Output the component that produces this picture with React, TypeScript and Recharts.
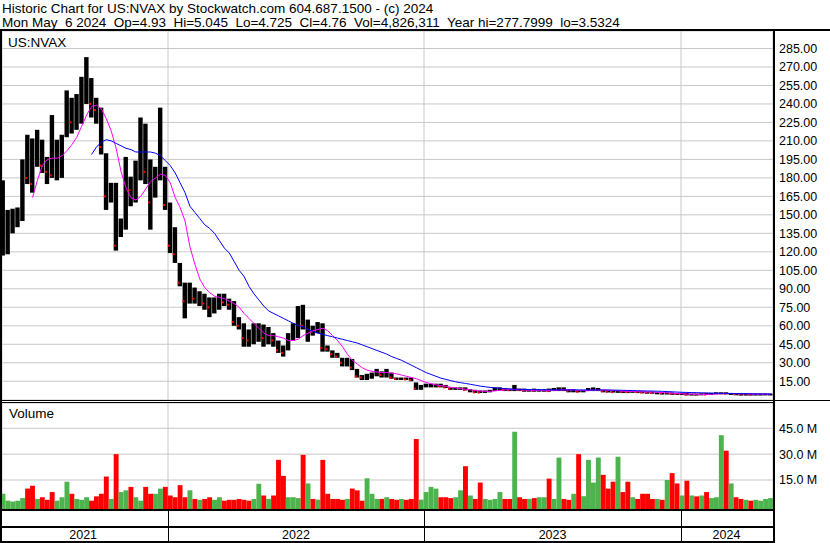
import React from 'react';
import { ComposedChart, Bar, Line, XAxis, YAxis, CartesianGrid, Cell } from 'recharts';

// Weekly data, week 0 = week of May 10 2021, week 156 = week of May 6 2024
const HI = [
  178, 154, 155, 156, 195, 215, 212, 219, 211, 197,
  231, 211, 215, 251, 245, 248, 262, 278, 261, 245,
  237, 200, 176, 176, 147, 197, 181, 194, 229, 224,
  195, 189, 237, 189, 160, 140, 111, 95, 95, 91,
  88, 86, 83, 83, 86, 86, 82, 80, 67, 62,
  57, 62, 62, 61, 59, 54, 48, 44, 54, 62,
  76, 77, 65, 60, 63, 62, 44, 40, 38, 34,
  34, 33, 25, 20, 21, 22, 25, 23, 25, 22,
  18, 18, 18, 18, 14, 12, 13, 13, 13, 13,
  12, 10, 10, 10, 10, 8.5, 8, 7.5, 7.5, 8,
  10, 10, 9.5, 9, 12, 9, 9, 8.5, 9, 8.5,
  8.5, 9, 9.5, 10, 10, 8.5, 8.5, 8, 8, 9.5,
  10, 9.5, 8, 7.5, 7.5, 7.2, 7, 7, 7.2, 7,
  6.8, 6.5, 6.5, 6, 6, 6, 5.8, 5.5, 5.5, 5.5,
  5, 5, 5.2, 5.5, 5.5, 6, 6, 6, 5.5, 5.2,
  5, 5, 5, 5, 5, 5.1, 5.05,
];
const LO = [
  117, 118, 135, 140, 145, 175, 168, 189, 184, 175,
  180, 178, 180, 213, 216, 219, 224, 240, 229, 224,
  199, 154, 160, 121, 132, 138, 157, 160, 178, 175,
  138, 164, 178, 154, 119, 111, 92, 66, 78, 78,
  76, 73, 67, 70, 73, 76, 73, 60, 57, 43,
  43, 45, 47, 43, 45, 43, 38, 35, 40, 48,
  50, 57, 47, 52, 54, 39, 39, 34, 34, 27,
  27, 24, 18, 16, 16, 17, 19, 18, 18, 17,
  16, 16, 16, 15, 8, 8, 10, 10, 10, 10,
  9.5, 8, 8, 8, 7.5, 6, 5.5, 5.5, 5.5, 6,
  7, 7.5, 7, 7, 7, 7, 6.5, 6.5, 6.5, 6.5,
  6.5, 6.5, 7, 7, 7, 6, 6, 6, 6, 7,
  7, 7, 6, 6, 5.8, 5.8, 5.5, 5.5, 5.8, 5.5,
  5.5, 5.2, 5, 4.5, 4.2, 4.2, 4, 4, 3.8, 3.5,
  3.5, 3.6, 3.8, 4, 4, 4.5, 4.5, 4.5, 4.5, 4,
  3.8, 3.8, 3.6, 3.8, 3.8, 4, 4.5,
];
const CL = [
  135, 145, 148, 150, 185, 180, 175, 205, 190, 185,
  182, 185, 205, 235, 225, 240, 250, 260, 240, 235,
  205, 165, 168, 125, 140, 185, 170, 185, 200, 185,
  160, 180, 185, 158, 125, 118, 95, 80, 88, 82,
  84, 78, 75, 78, 80, 79, 77, 63, 60, 50,
  48, 55, 56, 50, 52, 48, 40, 38, 50, 55,
  70, 60, 62, 55, 58, 42, 41, 37, 35, 30,
  32, 26, 19, 18, 19, 20, 21, 20, 22, 18,
  17, 17, 16.5, 16, 9, 10, 12, 12.5, 12.6, 11,
  10, 9, 9.2, 9.4, 8, 8.2, 6, 5.8, 6.5, 7.5,
  8.5, 9, 8, 7.8, 8.5, 8, 7.5, 7.6, 7.2, 7.4,
  7.8, 7, 8, 8.5, 8, 7, 7.2, 6.5, 6.8, 8.5,
  8.6, 8.8, 7, 6.5, 6.2, 6.8, 6.5, 6.2, 6.4, 6.3,
  6, 5.8, 5.6, 5.6, 5.4, 5.6, 5, 4.6, 4.7, 4.2,
  4.3, 4.1, 4.4, 4.2, 4.5, 4.8, 5.4, 4.9, 5, 4.6,
  4.4, 4.5, 4.2, 4.4, 4.6, 4.7, 4.76,
];
const MA_FAST = [
  null, null, null, null, null, null,
  164, 178, 190, 195, 196, 196, 198, 202, 207, 213,
  222, 231, 238, 239, 236, 228, 218, 204, 185, 172,
  164, 162, 165, 171, 177, 180, 183, 182, 176, 164,
  156, 145, 124, 110, 98, 91, 87, 84, 83, 82,
  80, 78, 75, 70, 66, 62, 58, 54, 52, 52,
  51, 50, 48, 48, 49, 52, 54, 56, 57, 58,
  56, 52, 48, 43, 37, 32, 29, 26, 24, 23,
  22.5, 22, 22, 21.5, 21, 20, 19, 18, 17, 15.5,
  14, 13, 12, 11.5, 11, 10, 9.5, 9, 8.5, 8,
  7.5, 7, 6.8, 6.8, 7.2, 7.6, 8, 8.2, 8.2,
  8, 7.8, 7.6, 7.5, 7.5, 7.4, 7.4, 7.6, 7.8, 8,
  8, 7.8, 7.5, 7.3, 7.4, 7.6, 7.8, 7.9, 7.8, 7.5,
  7.2, 7, 6.8, 6.6, 6.5, 6.4, 6.3, 6.2, 6, 5.8,
  5.5, 5.3, 5, 4.8, 4.6, 4.5, 4.4, 4.3, 4.3, 4.4,
  4.6, 4.8, 4.9, 5, 4.9, 4.8, 4.7, 4.6, 4.5, 4.5,
  4.5, 4.5,
];
const MA_SLOW = [
  null, null, null, null, null, null, null, null, null, null,
  null, null, null, null, null, null, null, null,
  199, 205, 209, 211, 210, 208, 206, 204, 203, 201,
  201, 201, 201, 200, 198, 194, 190, 184, 176, 168,
  157, 152, 147, 142, 139, 135, 129, 123, 119, 112,
  105, 100, 92, 86, 81, 76, 72, 70, 68, 66,
  64, 62, 60, 59, 57, 55.5, 54, 53, 52, 51,
  50, 49, 48, 47, 46, 44.5, 43, 41.5, 40, 38.5,
  37, 35, 33.5, 32, 30, 28, 26, 24, 22, 20.5,
  19, 17.5, 16.5, 15.5, 14.5, 13.8, 13.2, 12.5, 11.8, 11,
  10.5, 10, 9.6, 9.3, 9, 8.7, 8.5,
  8.4, 8.3, 8.2, 8.1, 8.1, 8.0, 8.0, 8.0, 8.0, 8.0,
  7.9, 7.9, 7.9, 7.9, 7.9, 7.9, 7.9, 7.9, 7.8, 7.8,
  7.7, 7.6, 7.5, 7.4, 7.3, 7.2, 7.1, 7.0, 6.9, 6.8,
  6.6, 6.4, 6.2, 6.0, 5.9, 5.8, 5.7, 5.6, 5.5, 5.4,
  5.3, 5.2, 5.1, 5.0, 5.0, 4.9, 4.9, 4.8, 4.7, 4.7,
  4.6, 4.5,
];
// volume in millions
const VOL = [
  7, 3, 2.5, 3, 4.5, 10, 11.6, 4, 5, 3.5,
  8, 3, 5, 14, 7, 4, 3.5, 5, 3, 5.5,
  7, 17, 4, 30, 8, 9, 11, 5, 3, 11,
  7, 7, 10, 11, 6, 5, 12, 5, 9, 4,
  3.5, 4, 5, 3.5, 5, 3, 3.5, 3.5, 4, 3.5,
  3, 4, 12.8, 6, 4, 6, 26.7, 17.4, 5, 5,
  4.5, 29.6, 13, 4, 3.6, 26.7, 7, 4, 4, 3.5,
  4, 10, 9, 3, 16, 7, 4, 4, 5, 4,
  3.5, 4, 3.5, 4, 38.8, 3.6, 8, 11, 10, 5,
  5, 4.5, 5, 9, 23, 6, 4, 13.5, 4, 3.5,
  4, 8, 4, 4, 43, 5, 4, 4, 4.5, 5,
  5, 15.8, 4, 28, 4, 3.5, 7, 30, 5.6, 26.7,
  13.5, 28, 18, 10, 14, 28.5, 8, 14, 5, 4,
  7, 7, 4, 4, 3.5, 15, 19, 13, 6, 14.6,
  6, 5.5, 6, 8, 4.5, 5, 41, 32, 13, 5,
  4, 3.5, 3, 3.5, 3, 4, 4.5,
];

const PRICE_TICKS = [15, 30, 45, 60, 75, 90, 105, 120, 135, 150, 165, 180, 195, 210, 225, 240, 255, 270, 285];
const VOL_TICKS = [15, 30, 45];
const YEAR_LABELS = ['2021', '2022', '2023', '2024'];
const YEAR_CENTERS = [16.3, 59.55, 111.7, 147.05];
const YEAR_STARTS = [33.54, 85.57, 137.8];

const HEADER_1 = 'Historic Chart for US:NVAX by Stockwatch.com 604.687.1500 - (c) 2024';
const HEADER_2 = 'Mon May  6 2024  Op=4.93  Hi=5.045  Lo=4.725  Cl=4.76  Vol=4,826,311  Year hi=277.7999  lo=3.5324';
const SYMBOL = 'US:NVAX';

const X_DOMAIN: [number, number] = [-0.2, 156.5];
const PRICE_DOMAIN: [number, number] = [-0.24, 299.2];
const VOL_MIN = -1.83;
const VOL_DOMAIN: [number, number] = [VOL_MIN, 59.68];

const rows = HI.map((hi, i) => ({
  i,
  hi,
  lo: LO[i],
  cl: CL[i],
  maFast: MA_FAST[i],
  maSlow: MA_SLOW[i],
  vol: VOL[i],
  down: i > 0 && CL[i] < CL[i - 1],
}));

const FONT = '"Liberation Sans", Arial, Helvetica, sans-serif';
const GRID = '#c8c8c8';
const RED = '#ff0000';
const GREEN = '#4db34d';

const VOL_CHART_TOP = 403;
const VOL_CHART_H = 140;

const PriceBarShape = (props: any) => {
  const { x, y, width, height, payload } = props;
  if (x == null || y == null || height == null) return null;
  const h = Math.max(Math.abs(height), 2);
  const top = height < 0 ? y + height : y;
  const span = payload.hi - payload.lo;
  const cy = span > 0 ? top + ((payload.hi - payload.cl) / span) * Math.abs(height) : top;
  return (
    <g>
      <rect x={x} y={top} width={width} height={h} fill="#000" />
      {payload.down ? <rect x={x} y={cy - 1} width={2} height={2} fill={RED} /> : null}
    </g>
  );
};

const PriceTick = (props: any) => {
  const { x, y, payload } = props;
  return (
    <text x={x + 6} y={y + 4.5} fontSize={12.5} fontFamily={FONT} fill="#000">
      {Number(payload.value).toFixed(2)}
    </text>
  );
};

const VolTick = (props: any) => {
  const { x, y, payload } = props;
  return (
    <text x={x + 6} y={y + 4.5} fontSize={12.5} fontFamily={FONT} fill="#000">
      {`${Number(payload.value).toFixed(1)} M`}
    </text>
  );
};

// year band below the volume panel: page y 510..541 -> chart-local coordinates
const BAND_TOP = 510 - VOL_CHART_TOP;
const BAND_BOTTOM = 541 - VOL_CHART_TOP;
const LABEL_BASELINE = 539 - VOL_CHART_TOP;

const YearTick = (props: any) => {
  const { x, payload } = props;
  const idx = YEAR_CENTERS.indexOf(payload.value);
  if (idx >= 0) {
    return (
      <text x={x} y={LABEL_BASELINE} textAnchor="middle" fontSize={12.5} fontFamily={FONT} fill="#000">
        {YEAR_LABELS[idx]}
      </text>
    );
  }
  const xx = Math.round(x) + 0.5;
  return <line x1={xx} x2={xx} y1={BAND_TOP} y2={BAND_BOTTOM} stroke="#000" strokeWidth={1} />;
};

export default function App() {
  return (
    <div style={{ position: 'absolute', left: 0, top: 0, width: 830, height: 543, background: '#fff', overflow: 'hidden' }}>
      <div style={{ position: 'absolute', left: 0, top: 31 }}>
        <ComposedChart width={830} height={369} data={rows} margin={{ top: 0, right: 0, bottom: 0, left: 2 }}>
          <CartesianGrid stroke={GRID} strokeWidth={1} vertical={true} horizontal={true} />
          <XAxis dataKey="i" type="number" domain={X_DOMAIN} ticks={YEAR_STARTS} hide allowDataOverflow />
          <YAxis
            orientation="right"
            width={57}
            type="number"
            domain={PRICE_DOMAIN}
            ticks={PRICE_TICKS}
            interval={0}
            allowDataOverflow
            axisLine={false}
            tickLine={false}
            tickSize={0}
            tickMargin={0}
            tick={<PriceTick />}
          />
          <Bar dataKey={(d: any) => [d.lo, d.hi]} barSize={4.4} shape={<PriceBarShape />} isAnimationActive={false} />
          <Line dataKey="maFast" stroke="#ff00ff" strokeWidth={1} dot={false} isAnimationActive={false} />
          <Line dataKey="maSlow" stroke="#0000ff" strokeWidth={1} dot={false} isAnimationActive={false} />
        </ComposedChart>
      </div>
      <div style={{ position: 'absolute', left: 0, top: VOL_CHART_TOP }}>
        <ComposedChart width={830} height={VOL_CHART_H} data={rows} margin={{ top: 0, right: 0, bottom: 0, left: 2 }}>
          <CartesianGrid stroke={GRID} strokeWidth={1} xAxisId="grid" vertical={true} horizontal={true} />
          <XAxis xAxisId="grid" dataKey="i" type="number" domain={X_DOMAIN} ticks={YEAR_STARTS} hide allowDataOverflow />
          <XAxis
            xAxisId="years"
            dataKey="i"
            type="number"
            domain={X_DOMAIN}
            ticks={[...YEAR_CENTERS, ...YEAR_STARTS]}
            interval={0}
            height={34}
            allowDataOverflow
            axisLine={false}
            tickLine={false}
            tickSize={0}
            tickMargin={0}
            tick={<YearTick />}
          />
          <YAxis
            orientation="right"
            width={57}
            type="number"
            domain={VOL_DOMAIN}
            ticks={VOL_TICKS}
            interval={0}
            allowDataOverflow
            axisLine={false}
            tickLine={false}
            tickSize={0}
            tickMargin={0}
            tick={<VolTick />}
          />
          <Bar xAxisId="grid" dataKey={(d: any) => [VOL_MIN, d.vol]} barSize={4.9} isAnimationActive={false}>
            {rows.map((r) => (
              <Cell key={r.i} fill={r.down ? RED : GREEN} />
            ))}
          </Bar>
        </ComposedChart>
      </div>
      <svg width={830} height={543} style={{ position: 'absolute', left: 0, top: 0, pointerEvents: 'none' }}>
        <text x={2} y={13} fontSize={13.5} fontFamily={FONT} fill="#000" style={{ whiteSpace: 'pre' }}>{HEADER_1}</text>
        <text x={2} y={26.5} fontSize={13.5} fontFamily={FONT} fill="#000" style={{ whiteSpace: 'pre' }}>{HEADER_2}</text>
        <text x={8} y={46.5} fontSize={13.5} fontFamily={FONT} fill="#000">{SYMBOL}</text>
        <text x={9} y={418} fontSize={13.5} fontFamily={FONT} fill="#000">Volume</text>
        <rect x={0} y={29} width={830} height={2} fill="#000" />
        <rect x={0} y={31} width={2} height={512} fill="#000" />
        <rect x={773} y={31} width={2} height={512} fill="#000" />
        <rect x={0} y={400} width={830} height={1} fill="#000" />
        <rect x={0} y={402} width={773} height={1} fill="#000" />
        <rect x={0} y={509} width={773} height={2} fill="#000" />
        <rect x={0} y={526} width={773} height={2} fill="#000" />
        <rect x={0} y={541} width={773} height={2} fill="#000" />
      </svg>
    </div>
  );
}
